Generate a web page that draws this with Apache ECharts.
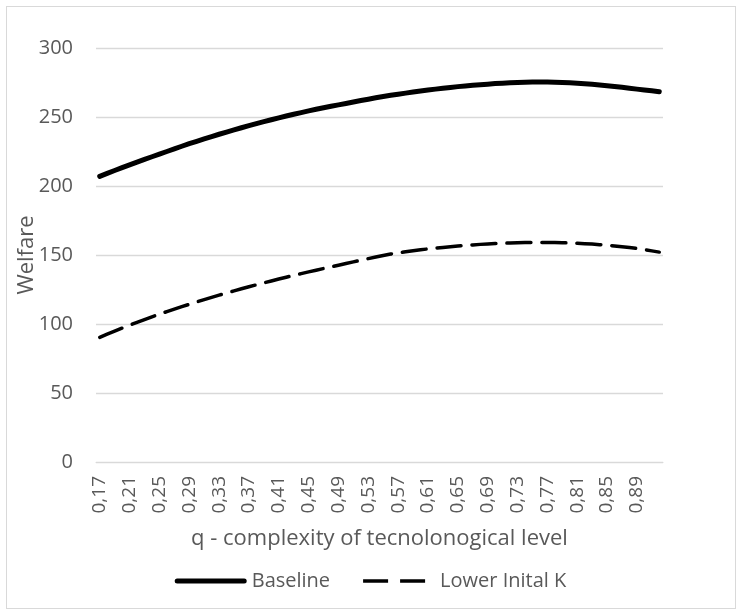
<!DOCTYPE html>
<html lang="en">
<head>
  <meta charset="UTF-8">
  <title>Welfare vs q</title>
  <style>
    body {
      margin: 0;
      background-color: #ffffff;
    }
    .frame {
      position: absolute;
      left: 6px;
      top: 6px;
      width: 728px;
      height: 601px;
      border: 1px solid #d9d9d9;
    }
    #chart {
      position: absolute;
      left: 0;
      top: 0;
      width: 741px;
      height: 615px;
    }
  </style>
  <script src="https://cdn.jsdelivr.net/npm/echarts@6/dist/echarts.min.js"></script>
</head>
<body>
  <div class="frame"></div>
  <div id="chart"></div>

  <script>
    // q values 0,17 ... 0,92 (step 0,01)
    var qLabels = ['0,17', '0,18', '0,19', '0,20', '0,21', '0,22', '0,23', '0,24', '0,25', '0,26',
      '0,27', '0,28', '0,29', '0,30', '0,31', '0,32', '0,33', '0,34', '0,35', '0,36',
      '0,37', '0,38', '0,39', '0,40', '0,41', '0,42', '0,43', '0,44', '0,45', '0,46',
      '0,47', '0,48', '0,49', '0,50', '0,51', '0,52', '0,53', '0,54', '0,55', '0,56',
      '0,57', '0,58', '0,59', '0,60', '0,61', '0,62', '0,63', '0,64', '0,65', '0,66',
      '0,67', '0,68', '0,69', '0,70', '0,71', '0,72', '0,73', '0,74', '0,75', '0,76',
      '0,77', '0,78', '0,79', '0,80', '0,81', '0,82', '0,83', '0,84', '0,85', '0,86',
      '0,87', '0,88', '0,89', '0,90', '0,91', '0,92'];

    var baseline = [207.0, 209.1, 211.2, 213.3, 215.3, 217.3, 219.3, 221.2, 223.1, 225.0,
      226.9, 228.8, 230.7, 232.4, 234.1, 235.8, 237.5, 239.1, 240.7, 242.2,
      243.7, 245.2, 246.6, 248.0, 249.4, 250.7, 252.0, 253.2, 254.4, 255.6,
      256.7, 257.8, 258.8, 259.8, 260.9, 261.9, 262.9, 263.9, 264.8, 265.7,
      266.5, 267.3, 268.1, 268.8, 269.5, 270.2, 270.8, 271.4, 272.0, 272.5,
      273.0, 273.4, 273.8, 274.2, 274.5, 274.8, 275.0, 275.2, 275.3, 275.3,
      275.3, 275.2, 275.0, 274.8, 274.5, 274.1, 273.7, 273.2, 272.7, 272.1,
      271.5, 270.9, 270.2, 269.6, 269.0, 268.3];

    var lowerK = [90.3, 92.6, 94.8, 97.0, 99.1, 101.2, 103.2, 105.2, 107.1, 109.0,
      110.8, 112.6, 114.3, 116.0, 117.7, 119.3, 120.9, 122.5, 124.0, 125.5,
      127.0, 128.4, 129.8, 131.2, 132.6, 133.9, 135.2, 136.5, 137.8, 139.0,
      140.2, 141.4, 142.6, 143.8, 145.0, 146.2, 147.4, 148.6, 149.7, 150.7,
      151.6, 152.4, 153.1, 153.8, 154.4, 155.0, 155.5, 156.0, 156.5, 156.9,
      157.3, 157.7, 158.0, 158.3, 158.5, 158.7, 158.9, 159.0, 159.1, 159.1,
      159.1, 159.0, 158.9, 158.7, 158.5, 158.2, 157.9, 157.5, 157.1, 156.6,
      156.0, 155.4, 154.7, 153.9, 153.0, 152.1];

    var font = '"Open Sans", "Noto Sans", sans-serif';
    var textColor = '#595959';

    // legend icons: a solid rounded bar and two long dashes (72 x 5 box)
    var solidIcon = 'path://M2.5,0H69.5A2.5,2.5 0 0 1 69.5,5H2.5A2.5,2.5 0 0 1 2.5,0Z';
    var dashIcon = 'path://M0,0M0,0.75H25V4.25H0Z M37,0.75H62V4.25H37Z M72,5';

    var chart = echarts.init(document.getElementById('chart'));
    chart.setOption({
      animation: false,
      textStyle: { fontFamily: font },
      grid: {
        left: 96,
        right: 78,
        top: 48,
        bottom: 153
      },
      legend: {
        left: 'center',
        top: 566,
        itemWidth: 72,
        itemHeight: 5,
        itemGap: 33,
        textStyle: { color: textColor, fontSize: 20, fontFamily: font },
        data: [
          { name: 'Baseline', icon: solidIcon },
          { name: 'Lower Inital K', icon: dashIcon }
        ]
      },
      xAxis: {
        type: 'category',
        data: qLabels,
        boundaryGap: true,
        name: 'q - complexity of tecnolonogical level',
        nameLocation: 'middle',
        nameGap: 66,
        nameMoveOverlap: false,
        nameTextStyle: { color: textColor, fontSize: 22, fontFamily: font },
        axisLine: { show: true, lineStyle: { color: '#d9d9d9', width: 1 } },
        axisTick: { show: false },
        axisLabel: {
          interval: 3,
          rotate: 90,
          margin: 14,
          color: textColor,
          fontSize: 19,
          fontFamily: font
        }
      },
      yAxis: {
        type: 'value',
        min: 0,
        max: 300,
        interval: 50,
        name: 'Welfare',
        nameLocation: 'middle',
        nameGap: 58,
        nameMoveOverlap: false,
        nameTextStyle: { color: textColor, fontSize: 22, fontFamily: font },
        axisLine: { show: false },
        axisTick: { show: false },
        axisLabel: { color: textColor, fontSize: 20, margin: 23, fontFamily: font },
        splitLine: { lineStyle: { color: '#d9d9d9', width: 1.3 } }
      },
      series: [
        {
          name: 'Baseline',
          type: 'line',
          data: baseline,
          symbol: 'none',
          lineStyle: { color: '#000000', width: 5, cap: 'round', join: 'round' },
          itemStyle: { color: '#000000' }
        },
        {
          name: 'Lower Inital K',
          type: 'line',
          data: lowerK,
          symbol: 'none',
          lineStyle: { color: '#000000', width: 3.5, type: [24, 11], cap: 'round' },
          itemStyle: { color: '#000000' }
        }
      ]
    });

    window.addEventListener('resize', function() {
      chart.resize();
    });
  </script>
</body>
</html>
